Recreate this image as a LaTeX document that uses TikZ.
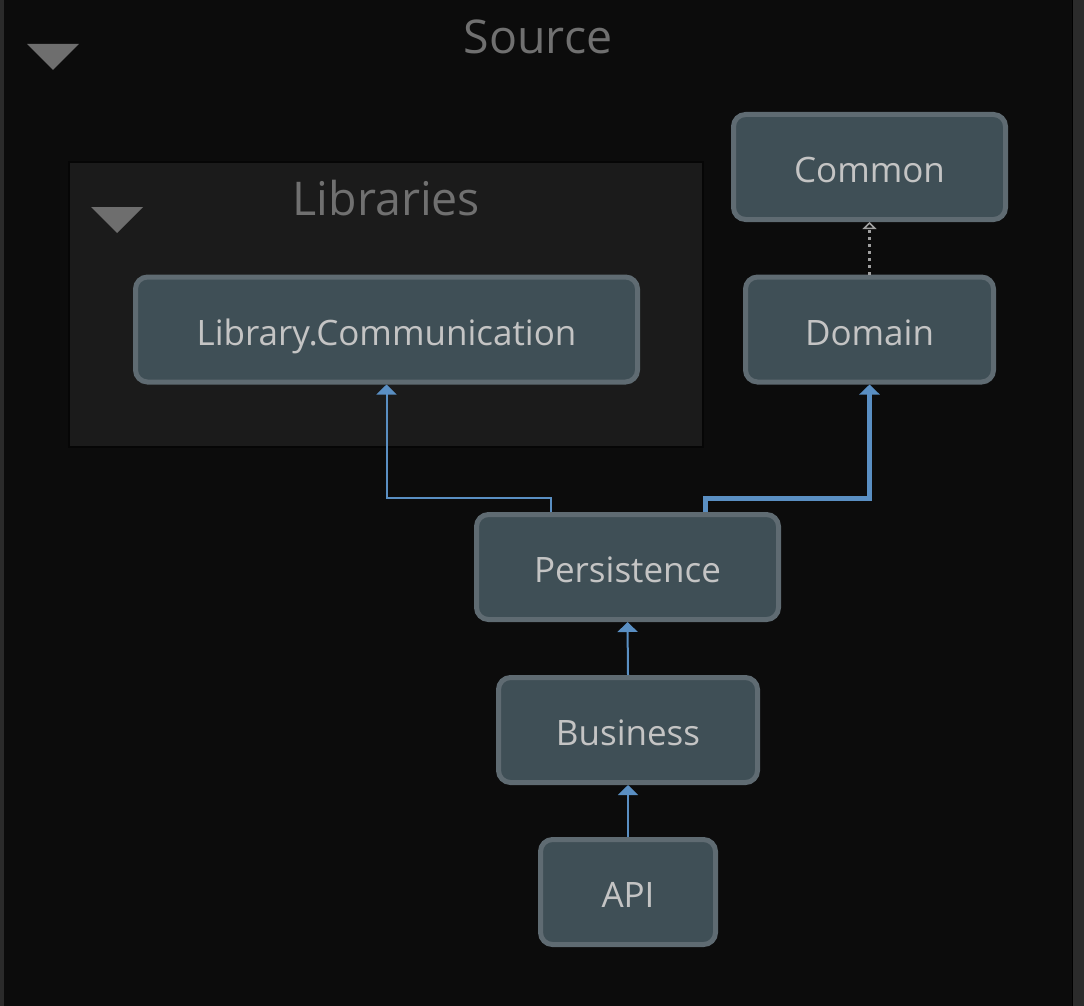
\documentclass[tikz,border=0pt]{standalone}
\usepackage{fontspec}
\setmainfont{Open Sans}
\usetikzlibrary{arrows.meta}
\definecolor{canvas}{HTML}{0C0C0C}
\definecolor{edgestrip}{HTML}{2B2B2B}
\definecolor{groupfill}{HTML}{1B1B1B}
\definecolor{groupline}{HTML}{060606}
\definecolor{titlegray}{HTML}{707070}
\definecolor{togglegray}{HTML}{6E6E6E}
\definecolor{projfill}{HTML}{3F4F56}
\definecolor{projline}{HTML}{5F6B72}
\definecolor{projtext}{HTML}{C4C4C4}
\definecolor{deplink}{HTML}{5A8FC3}
\definecolor{reflink}{HTML}{A0A0A0}
\begin{document}
\begin{tikzpicture}[x=1pt,y=-1pt,
    proj/.style={draw=projline, fill=projfill, line width=5pt, rounded corners=12pt,
        text=projtext, font=\fontsize{35}{35}\selectfont, inner sep=0pt,
        text height=35pt, text depth=3.5pt, minimum height=105pt},
    dep/.style={draw=deplink, line width=2pt, -{Triangle[width=20pt,length=10pt]}},
    title/.style={text=titlegray, font=\fontsize{46.5}{46.5}\selectfont, inner sep=0pt},
    toggle/.style={fill=togglegray}]
    % canvas and side strips
    \useasboundingbox (0,0) rectangle (1084,1006);
    \fill[canvas] (0,0) rectangle (1084,1006);
    \fill[edgestrip] (0,0) rectangle (4,1006);
    \fill[edgestrip] (1073,0) rectangle (1084,1006);
    \draw[black, line width=1pt] (1072.5,0) -- (1072.5,1006);
    % outer group header
    \node[title] (srctitle) at (538,37) {Source};
    \fill[toggle] (27,44) -- (79,44) -- (53,70) -- cycle;
    % libraries group
    \draw[groupline, fill=groupfill, line width=2pt] (69,162) rectangle (703,447);
    \node[title] (libtitle) at (386.5,198) {Libraries};
    \fill[toggle] (91,207) -- (143,207) -- (117,233) -- cycle;
    % projects
    \node[proj, minimum width=272pt] (common) at (869.5,167) {Common};
    \node[proj, minimum width=248pt] (domain) at (869.5,329.5) {Domain};
    \node[proj, minimum width=502pt] (libcomm) at (386.5,329.5) {Library.Communication};
    \node[proj, minimum width=302pt] (persist) at (627.5,567) {Persistence};
    \node[proj, minimum width=259pt] (business) at (628,730) {Business};
    \node[proj, minimum width=175pt] (api) at (628,892) {API};
    % dependencies
    \draw[dep] ([xshift=-77pt]persist.north) -- ++(0,-14) -| (libcomm.south);
    \draw[dep, line width=5pt] ([xshift=78pt]persist.north) -- ++(0,-14) -| (domain.south);
    \draw[dep] (business.north) -- (persist.south);
    \draw[dep] (api.north) -- (business.south);
    \draw[reflink, line width=3pt, dash pattern=on 3pt off 4pt,
        -{Triangle[open, width=14pt, length=7pt, line width=1.5pt]}] (domain.north) -- (common.south);
\end{tikzpicture}
\end{document}
